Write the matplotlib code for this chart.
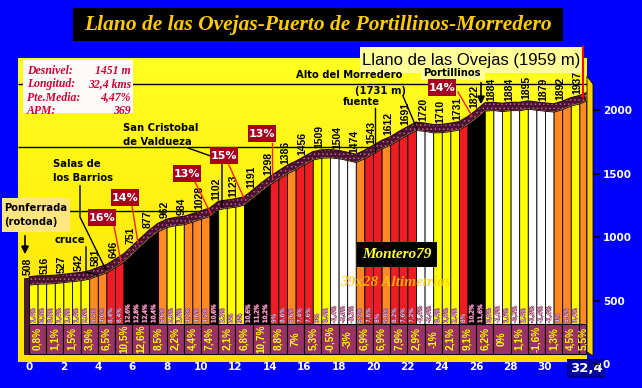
import matplotlib
matplotlib.use("Agg")
import matplotlib.pyplot as plt
import matplotlib.patheffects as pe
from matplotlib.patches import Rectangle, Polygon, FancyArrowPatch
from matplotlib.lines import Line2D
from matplotlib.colors import LinearSegmentedColormap
from matplotlib.transforms import Affine2D
import numpy as np

# profile every half km (altitudes)
dist_km = [i * 0.5 for i in range(65)] + [32.4]
profile_alt = [508, 515, 516, 520, 527, 535, 542, 555, 581, 604,
               646, 688, 751, 815, 877, 929, 962, 976, 984, 1005,
               1028, 1049, 1102, 1113, 1123, 1138, 1191, 1247, 1298, 1343,
               1386, 1419, 1456, 1494, 1509, 1511, 1504, 1490, 1474, 1505,
               1543, 1583, 1612, 1653, 1691, 1727, 1720, 1708, 1710, 1719,
               1731, 1771, 1822, 1880, 1884, 1876, 1884, 1883, 1895, 1886,
               1879, 1872, 1892, 1920, 1937, 1959]

# gradient of each half km bar
half_grad = [1.4, 0.2, 0.8, 1.4, 1.6, 1.4, 2.6, 5.2, 4.6, 8.4,
             8.4, 12.6, 12.8, 12.4, 10.4, 6.6, 2.8, 1.6, 4.2, 4.6,
             4.2, 10.6, 2.2, 2.0, 3.0, 10.6, 11.2, 10.2, 9.0, 8.6,
             6.6, 7.4, 7.6, 3.0, 0.4, -1.4, -2.8, -3.2, 6.2, 7.6,
             8.0, 5.8, 8.2, 7.6, 7.2, -1.4, -2.4, 0.4, 1.8, 2.4,
             8.0, 10.2, 11.6, 0.8, -1.6, 1.6, -0.2, 2.4, -1.8, -1.4,
             -1.4, 4.0, 5.6, 3.4, 5.5]

# altitude label at every km
km_marks = list(range(33))
km_alt = [508, 516, 527, 542, 581, 646, 751, 877, 962, 984, 1028, 1102,
          1123, 1191, 1298, 1386, 1456, 1509, 1504, 1474, 1543, 1612, 1691,
          1720, 1710, 1731, 1822, 1884, 1884, 1895, 1879, 1892, 1937]

# mean gradient of each km (bottom strip)
km_grad = [0.8, 1.1, 1.5, 3.9, 6.5, 10.5, 12.6, 8.5, 2.2, 4.4, 7.4, 2.1,
           6.8, 10.7, 8.8, 7, 5.3, -0.5, -3, 6.9, 6.9, 7.9, 2.9, -1, 2.1,
           9.1, 6.2, 0, 1.1, -1.6, 1.3, 4.5, 5.5]

x_ticks = [0, 2, 4, 6, 8, 10, 12, 14, 16, 18, 20, 22, 24, 26, 28, 30, 32.4]
x_labels = ["0", "2", "4", "6", "8", "10", "12", "14", "16", "18", "20",
            "22", "24", "26", "28", "30", "32,4"]
y_ticks = [0, 500, 1000, 1500, 2000]

info_rows = [("Desnivel:", "1451 m"), ("Longitud:", "32,4 kms"),
             ("Pte.Media:", "4,47%"), ("APM:", "369")]

W, H = 642, 388
SANS = "Liberation Sans"
SERIF = "Liberation Serif"
plt.rcParams["hatch.linewidth"] = 0.6


def pct(v):
    return f"{v:g}".replace(".", ",") + "%"


def grad_color(g):
    if g <= 0:
        return "#FFFFFF"
    if g < 4:
        return "#FFFF00"
    if g < 7:
        return "#FF8A24"
    if g < 10:
        return "#EE1C25"
    return "#000000"


fig = plt.figure(figsize=(W / 100, H / 100), dpi=100)
fig.patch.set_facecolor("#0000FF")
PX = Affine2D().scale(1 / W, -1 / H).translate(0, 1) + fig.transFigure


def px_axes(l, t, r, b):
    return fig.add_axes([l / W, 1 - b / H, (r - l) / W, (b - t) / H])


def px_box(x, y, w, h, fc, ec="none", z=5):
    fig.add_artist(Rectangle((x, y), w, h, fc=fc, ec=ec, lw=0.8,
                             transform=PX, zorder=z))


def px_line(pts, color="black", lw=1.0, z=4):
    xs, ys = zip(*pts)
    fig.add_artist(Line2D(xs, ys, color=color, lw=lw, transform=PX, zorder=z))


def px_text(x, y, s, **kw):
    kw.setdefault("zorder", 6)
    fig.text(x, y, s, transform=PX, **kw)


# back plane axes (bars and profile)
X0, KM = 29, 17.2
Y0, MP = 349, 0.1268
ax = px_axes(18, 58, 587, 362)
xlim = ((18 - X0) / KM, (587 - X0) / KM)
ylim = ((Y0 - 362) / MP, (Y0 - 58) / MP)
ax.set_xlim(xlim)
ax.set_ylim(ylim)
for s in ax.spines.values():
    s.set_visible(False)

bg = LinearSegmentedColormap.from_list("bg", ["#FFE200", "#FFFF20"])
ax.imshow(np.linspace(0, 1, 200).reshape(-1, 1)[::-1], cmap=bg, aspect="auto",
          extent=[xlim[0], xlim[1], ylim[0], ylim[1]], zorder=0)

# guide lines
ax.hlines(2090, xlim[0], xlim[1], color="black", lw=1, zorder=1)
ax.hlines(1593, xlim[0], 20.0, color="black", lw=1, zorder=1)
ax.hlines(1088, xlim[0], 10.9, color="black", lw=1, zorder=1)

# half km bars
for i, g in enumerate(half_grad):
    ax.fill_between(dist_km[i:i + 2], 0, profile_alt[i:i + 2],
                    fc=grad_color(g), ec="black", lw=0.6, zorder=2)

# thick profile edge
top = np.array(profile_alt) + 62
ax.fill_between(dist_km, profile_alt, top, fc="#4A1232", ec="#C0608F",
                hatch="....", lw=0, zorder=3)
ax.plot(dist_km, top, color="#2A0818", lw=0.8, zorder=3)

# left side wall
ax.add_patch(Rectangle((-0.3, -39), 0.3, 600, fc="#4D1A33", ec="black",
                       lw=0.5, zorder=3))

# small gradient labels in each bar
for i, g in enumerate(half_grad[:-1]):
    xc = (dist_km[i] + dist_km[i + 1]) / 2
    ax.text(xc, 205, pct(g), rotation=90, ha="center", va="bottom",
            fontsize=4.2, color="white", family="DejaVu Sans", zorder=4,
            path_effects=[pe.withStroke(linewidth=0.8, foreground="#993366")])

# km gradient strip
for k, g in enumerate(km_grad):
    x0 = k
    x1 = min(k + 1, dist_km[-1])
    ax.add_patch(Rectangle((x0, -39), x1 - x0, 236, fc="#993366",
                           ec="black", lw=0.8, zorder=4))
    ax.text((x0 + x1) / 2, 79, pct(g), rotation=90, ha="center",
            va="center", fontsize=7.2, fontweight="bold", color="#FFFF00",
            family=SANS, zorder=5)

# altitude labels
for k, a in zip(km_marks, km_alt):
    ax.text(k - 0.1, a + 75, str(a), rotation=90, ha="center", va="bottom",
            fontsize=7.5, fontweight="bold", family=SANS, zorder=5)

ax.set_yticks([])
ax.set_xticks(x_ticks)
ax.set_xticklabels(x_labels, fontsize=7.5, fontweight="bold", color="white",
                   family="DejaVu Sans")
ax.tick_params(axis="x", length=0, pad=0)
last = ax.get_xticklabels()[-1]
last.set_fontsize(9.5)
last.set_bbox(dict(boxstyle="square,pad=0.2", fc="#0000A0", ec="none"))

# front plane axes for the altitude scale
ax2 = px_axes(24, 73, 593, 377)
ax2.set_ylim(ylim)
ax2.patch.set_visible(False)
for s in ax2.spines.values():
    s.set_visible(False)
ax2.set_xticks([])
ax2.yaxis.tick_right()
ax2.set_yticks(y_ticks)
ax2.set_yticklabels([str(v) for v in y_ticks], fontsize=7.5,
                    fontweight="bold", color="white", family="DejaVu Sans")
ax2.tick_params(axis="y", length=5, width=1.2, color="black", pad=2)

# right side wall
fig.add_artist(Polygon([(587, 76), (593, 84), (593, 356), (587, 352)],
                       closed=True, fc="#FFD200", ec="black", lw=0.6,
                       transform=PX, zorder=2))

# title
px_box(73, 8, 490, 33, "black")
px_text(318, 25, "Llano de las Ovejas-Puerto de Portillinos-Morredero",
        ha="center", va="center", fontsize=15.5, style="italic",
        fontweight="bold", color="#FFCC00", family=SERIF)

# finish label
px_box(360, 47, 223, 26, "#FFFF99")
px_text(580, 60, "Llano de las Ovejas (1959 m)", ha="right", va="center",
        fontsize=12, color="black", family=SANS)
px_line([(583, 47), (583, 97)], color="red", lw=1.5, z=6)

# info box
px_box(23, 60, 110, 53, "#FFFAFA")
for j, (lab, val) in enumerate(info_rows):
    yy = 71 + j * 13.3
    px_text(27, yy, lab, ha="left", va="center", fontsize=8.5, style="italic",
            fontweight="bold", color="#CC0033", family=SERIF)
    px_text(131, yy, val, ha="right", va="center", fontsize=8.5,
            style="italic", fontweight="bold", color="#CC0033", family=SERIF)

# place names
lbl = dict(fontsize=7.2, fontweight="bold", family="DejaVu Sans",
           color="black", va="center", ha="left", linespacing=1.5)
px_box(2, 198, 68, 34, "#FFE680")
px_text(4, 215, "Ponferrada\n(rotonda)", **lbl)
fig.add_artist(FancyArrowPatch((25, 233), (25, 257), transform=PX,
                               arrowstyle="-|>", mutation_scale=11,
                               color="black", lw=1.2, zorder=6))
px_text(55, 240, "cruce", **lbl)
px_line([(86, 247), (86, 272), (97, 275)])
px_text(53, 171, "Salas de\nlos Barrios", **lbl)
px_line([(80, 186), (80, 217), (106, 270)])
px_text(123, 135, "San Cristobal\nde Valdueza", **lbl)
px_line([(188, 148), (222, 160), (222, 207)])
px_text(296, 75, "Alto del Morredero", **lbl)
px_text(355, 91, "(1731 m)", **lbl)
px_line([(403, 96), (417, 129)])
px_text(343, 102, "fuente", **lbl)
px_line([(375, 108), (375, 152)])
px_box(421, 66, 64, 14, "#FFFF99")
px_text(423, 73, "Portillinos", **lbl)
fig.add_artist(FancyArrowPatch((481, 80), (481, 107), transform=PX,
                               arrowstyle="-|>", mutation_scale=11,
                               color="black", lw=1.2, zorder=6))

# steepest ramps
ramps = [("16%", 88, 209, [(114, 226), (121, 262)]),
         ("14%", 111, 189, [(132, 206), (138, 243)]),
         ("13%", 173, 165, [(195, 182), (211, 214)]),
         ("15%", 210, 147, [(228, 163), (244, 198)]),
         ("13%", 248, 125, [(272, 143), (272, 178)]),
         ("14%", 428, 79, [(458, 92), (472, 116)])]
for txt, bx, by, lead in ramps:
    px_line(lead, color="#FF2020", lw=1.0, z=4)
    px_box(bx, by, 28, 17, "#A50021")
    px_text(bx + 14, by + 9, txt, ha="center", va="center", fontsize=8,
            fontweight="bold", color="white", family="DejaVu Sans")

# signature
px_box(357, 242, 80, 25, "black")
px_text(397, 255, "Montero79", ha="center", va="center", fontsize=11,
        style="italic", fontweight="bold", color="#FFFF33", family=SERIF)
px_text(396, 282, "39x28 Altimetrías", ha="center", va="center",
        fontsize=11, style="italic", fontweight="bold", color="#FFCC00",
        alpha=0.8, family=SERIF)

fig.savefig("out.png", dpi=100, facecolor=fig.get_facecolor())
